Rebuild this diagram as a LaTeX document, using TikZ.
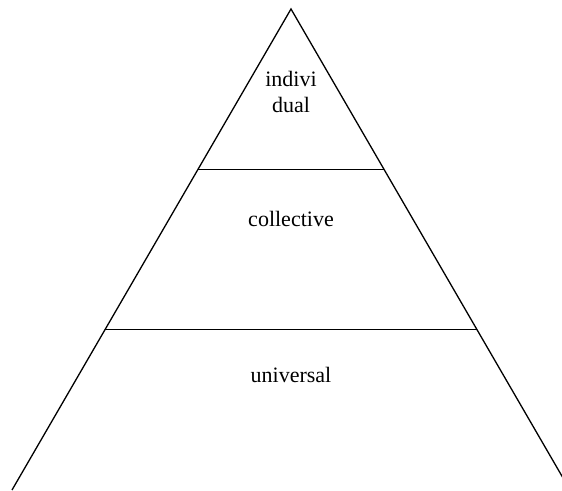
\documentclass[tikz,border=0pt]{standalone}
\usepackage{fontspec}
\setmainfont{Liberation Serif}
\usetikzlibrary{calc}

\begin{document}
\begin{tikzpicture}[x=0.5pt,y=-0.5pt,line width=0.65pt,
  lab/.style={font=\fontsize{11}{13}\selectfont,align=center,inner sep=0pt,anchor=base}]
\useasboundingbox (0,0) rectangle (562,491);
\clip (0,0) rectangle (562,491);
% apex and base corners
\coordinate (top) at (291,9);
\coordinate (bl) at (12,490);
\coordinate (br) at (570,490);
\draw (bl) -- (top) -- (br);
% layer boundaries at one and two thirds
\draw ($(top)!1/3!(bl)$) -- ($(top)!1/3!(br)$);
\draw ($(top)!2/3!(bl)$) -- ($(top)!2/3!(br)$);
% layer names
\node[lab] (indiv) at (291,113) {indivi\\dual};
\node[lab] (coll) at (291,227) {collective};
\node[lab] (univ) at (291,383) {universal};
\end{tikzpicture}
\end{document}
